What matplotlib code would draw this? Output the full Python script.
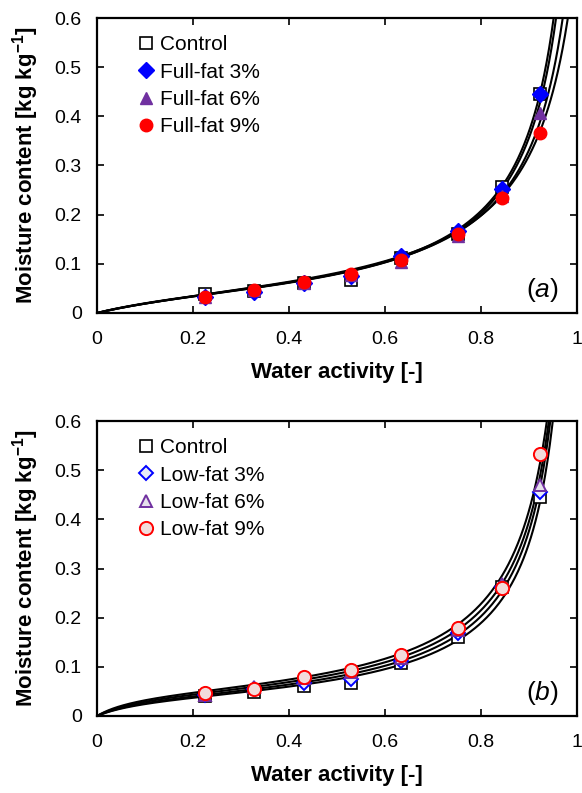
import numpy as np
import matplotlib
matplotlib.use("Agg")
import matplotlib.pyplot as plt

plt.rcParams['font.family'] = ['Liberation Sans', 'DejaVu Sans']
plt.rcParams['mathtext.fontset'] = 'custom'
plt.rcParams['mathtext.rm'] = 'Liberation Sans'
plt.rcParams['mathtext.it'] = 'Liberation Sans:italic'
plt.rcParams['mathtext.bf'] = 'Liberation Sans:bold'

# water activity of the measured points
aw = [0.225, 0.328, 0.432, 0.529, 0.634, 0.753, 0.843, 0.923]

# panel (a): full-fat samples
labels_a = ["Control", "Full-fat 3%", "Full-fat 6%", "Full-fat 9%"]
moist_a = [
    [0.038, 0.045, 0.062, 0.068, 0.112, 0.160, 0.257, 0.445],
    [0.032, 0.042, 0.062, 0.076, 0.115, 0.167, 0.253, 0.446],
    [0.033, 0.046, 0.061, 0.078, 0.104, 0.157, 0.237, 0.407],
    [0.032, 0.046, 0.063, 0.080, 0.108, 0.160, 0.234, 0.366],
]
# GAB parameters (Mm, C, K) of the fitted curves
gab_a = [(0.050, 5.0, 0.960), (0.050, 5.2, 0.965), (0.052, 4.8, 0.943), (0.055, 4.5, 0.928)]

# panel (b): low-fat samples
labels_b = ["Control", "Low-fat 3%", "Low-fat 6%", "Low-fat 9%"]
moist_b = [
    [0.041, 0.048, 0.062, 0.068, 0.108, 0.160, 0.262, 0.445],
    [0.042, 0.055, 0.067, 0.075, 0.112, 0.168, 0.263, 0.455],
    [0.043, 0.060, 0.078, 0.090, 0.118, 0.175, 0.268, 0.470],
    [0.046, 0.055, 0.080, 0.093, 0.125, 0.180, 0.260, 0.532],
]
gab_b = [(0.042, 10.0, 0.980), (0.045, 10.0, 0.980), (0.048, 11.0, 0.978), (0.051, 12.0, 0.977)]

xticks = [0, 0.2, 0.4, 0.6, 0.8, 1.0]
xticklabels = ["0", "0.2", "0.4", "0.6", "0.8", "1"]
yticks = [0, 0.1, 0.2, 0.3, 0.4, 0.5, 0.6]
yticklabels = ["0", "0.1", "0.2", "0.3", "0.4", "0.5", "0.6"]


def gab(a, mm, c, k):
    return mm * c * k * a / ((1 - k * a) * (1 - k * a + c * k * a))


style_a = [
    dict(marker='s', mfc='white', mec='black', ms=8, mew=1.2),
    dict(marker='D', mfc='#0000FF', mec='#0000FF', ms=8, mew=1.0),
    dict(marker='^', mfc='#7030A0', mec='#7030A0', ms=9, mew=1.0),
    dict(marker='o', mfc='#FF0000', mec='#FF0000', ms=9, mew=1.0),
]
style_b = [
    dict(marker='s', mfc='white', mec='black', ms=8, mew=1.2),
    dict(marker='D', mfc='#E8ECF8', mec='#0000FF', ms=7.5, mew=1.4),
    dict(marker='^', mfc='#E6E0EC', mec='#7030A0', ms=9, mew=1.4),
    dict(marker='o', mfc='#F2DCDB', mec='#FF0000', ms=9.5, mew=1.4),
]

fig = plt.figure(figsize=(5.82, 7.93), dpi=100)
ax_a = fig.add_axes([0.1667, 0.6053, 0.8247, 0.372])
ax_b = fig.add_axes([0.1667, 0.0971, 0.8247, 0.372])

xc = np.linspace(0, 0.995, 600)
panels = [(ax_a, labels_a, moist_a, gab_a, style_a, 'a'),
          (ax_b, labels_b, moist_b, gab_b, style_b, 'b')]

for ax, labels, moist, pars, styles, tag in panels:
    for p in pars:
        ax.plot(xc, gab(xc, *p), color='black', lw=1.5, zorder=2)
    for lab, m, st in zip(labels, moist, styles):
        ax.plot(aw, m, ls='none', label=lab, zorder=3, **st)
    ax.set_xlim(0, 1)
    ax.set_ylim(0, 0.6)
    ax.set_xticks(xticks)
    ax.set_xticklabels(xticklabels)
    ax.set_yticks(yticks)
    ax.set_yticklabels(yticklabels)
    ax.tick_params(direction='in', top=True, right=True, length=5, width=1.2,
                   labelsize=14)
    ax.tick_params(axis='x', pad=13)
    ax.tick_params(axis='y', pad=11)
    for s in ax.spines.values():
        s.set_linewidth(1.6)
    ax.set_xlabel("Water activity [-]", fontsize=16, fontweight='bold', labelpad=10)
    ax.set_ylabel("Moisture content [kg kg$\\mathbf{^{-1}}$]", fontsize=16,
                  fontweight='bold', labelpad=10)
    ax.legend(loc='upper left', frameon=False, fontsize=15, handletextpad=0.1,
              borderaxespad=0, labelspacing=0.4, handlelength=1.2,
              bbox_to_anchor=(0.058, 0.97))
    ax.text(0.962, 0.03, "($\\mathit{%s}$)" % tag, transform=ax.transAxes,
            ha='right', va='bottom', fontsize=19)

fig.savefig("out.png", dpi=100)
